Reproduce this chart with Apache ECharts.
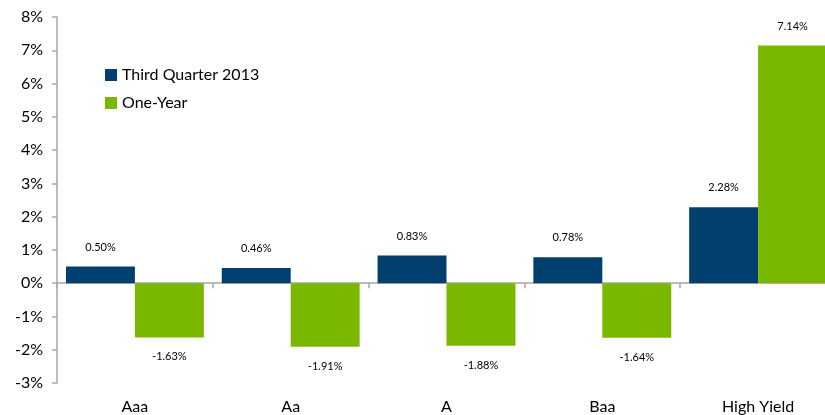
<!DOCTYPE html>
<html>
<head>
<meta charset="utf-8">
<script src="https://cdn.jsdelivr.net/npm/echarts@6/dist/echarts.min.js"></script>
<style>
  html, body { margin: 0; padding: 0; background: #fff; }
  #main { width: 825px; height: 415px; }
</style>
</head>
<body>
<div id="main"></div>
<script>
var categories = ["Aaa", "Aa", "A", "Baa", "High Yield"];
var quarterValues = [0.50, 0.46, 0.83, 0.78, 2.28];
var yearValues = [-1.63, -1.91, -1.88, -1.64, 7.14];
var seriesNames = ["Third Quarter 2013", "One-Year"];

var chartDom = document.getElementById("main");
var myChart = echarts.init(chartDom);

var font = "Lato, 'Open Sans', sans-serif";

function pct(p) {
  return p.value.toFixed(2) + "%";
}

var option = {
  animation: false,
  textStyle: { fontFamily: font },
  legend: {
    orient: "vertical",
    left: 100,
    top: 62,
    itemWidth: 12,
    itemHeight: 12,
    itemGap: 12,
    icon: "rect",
    textStyle: { fontSize: 16, color: "#000", fontFamily: font },
    data: seriesNames
  },
  grid: {
    left: 57,
    right: -11,
    top: 17,
    bottom: 32,
    containLabel: false,
    outerBoundsMode: "none"
  },
  xAxis: [
    {
      type: "category",
      data: categories,
      axisLine: { onZero: true, lineStyle: { color: "#a6a6a6", width: 1.5 } },
      axisTick: { show: true, length: 5, lineStyle: { color: "#a6a6a6", width: 1.5 } },
      axisLabel: { show: false }
    },
    {
      // label-only axis along the bottom edge
      type: "category",
      data: categories,
      position: "bottom",
      axisLine: { show: false, onZero: false },
      axisTick: { show: false },
      axisLabel: { margin: 16, fontSize: 16, color: "#000", fontFamily: font, hideOverlap: false }
    }
  ],
  yAxis: {
    type: "value",
    min: -3,
    max: 8,
    interval: 1,
    splitLine: { show: false },
    axisLine: { show: true, lineStyle: { color: "#a6a6a6", width: 1.5 } },
    axisTick: { show: true, length: 5, lineStyle: { color: "#a6a6a6", width: 1.5 } },
    axisLabel: {
      margin: 14,
      fontSize: 16,
      color: "#000",
      fontFamily: font,
      formatter: function (v) { return v + "%"; }
    }
  },
  series: [
    {
      name: seriesNames[0],
      type: "bar",
      data: quarterValues,
      barGap: "0%",
      barCategoryGap: "11.5%",
      itemStyle: { color: "#003f6e" },
      label: {
        show: true,
        position: "top",
        distance: 14,
        fontSize: 11,
        color: "#000",
        fontFamily: font,
        formatter: pct
      }
    },
    {
      name: seriesNames[1],
      type: "bar",
      data: yearValues,
      itemStyle: { color: "#7ab800" },
      label: {
        show: true,
        position: "top",
        distance: 14,
        fontSize: 11,
        color: "#000",
        fontFamily: font,
        formatter: pct
      }
    }
  ]
};

option.series[1].data = yearValues.map(function (v) {
  return {
    value: v,
    label: v < 0 ? { position: "bottom", distance: 14 } : {}
  };
});

myChart.setOption(option);
</script>
</body>
</html>
